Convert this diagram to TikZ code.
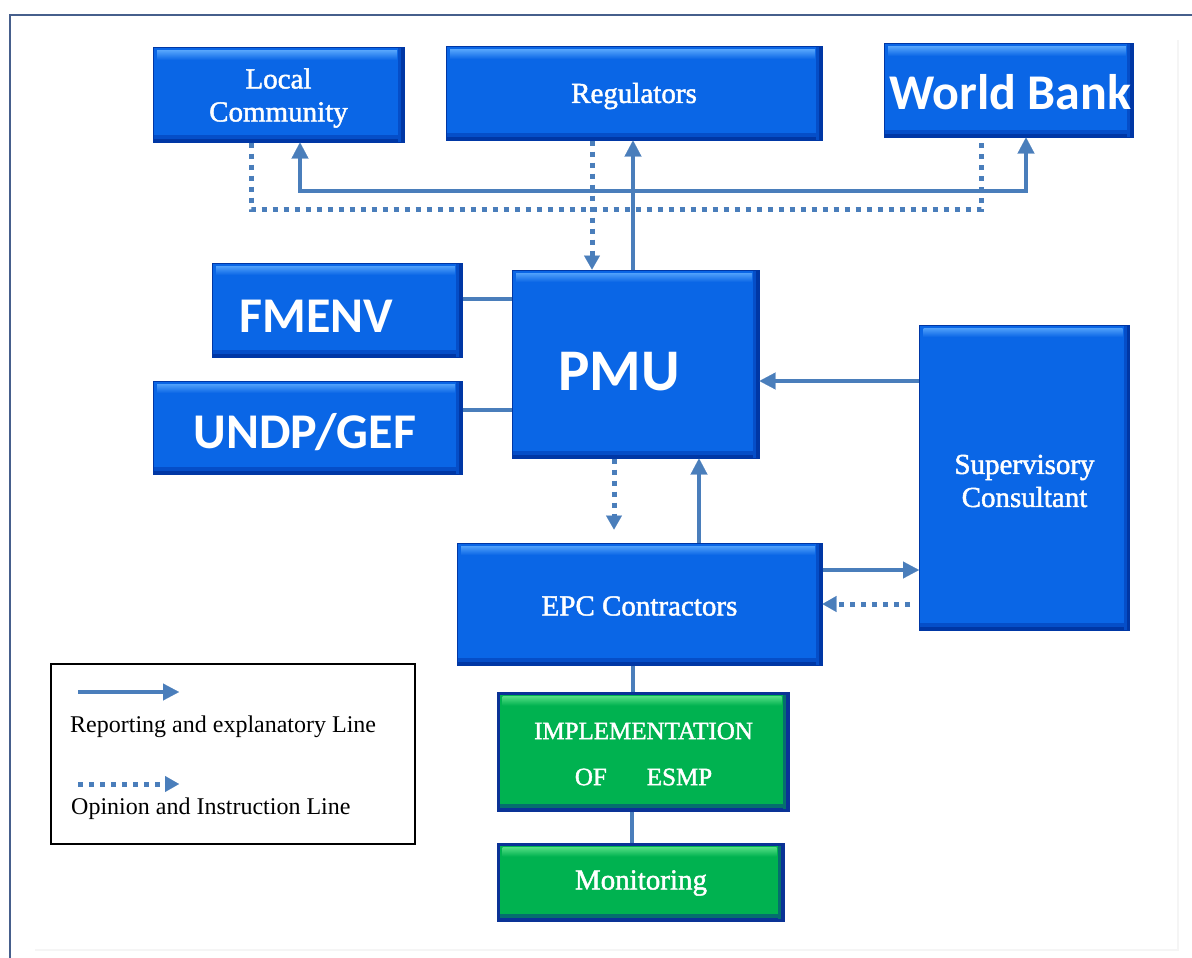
\documentclass[tikz,border=0pt]{standalone}
\usepackage{fontspec}
\setmainfont{Liberation Serif}
\newfontfamily\carlito{Carlito}
\newfontfamily\boxserif[FakeBold=1.6]{Liberation Serif}
\usetikzlibrary{arrows.meta}
\definecolor{bblue}{RGB}{10,102,230}
\definecolor{bdark}{RGB}{0,55,165}
\definecolor{bmid}{RGB}{5,78,200}
\definecolor{blight}{RGB}{80,160,250}
\definecolor{bgreen}{RGB}{0,178,80}
\definecolor{gdark}{RGB}{10,50,150}
\definecolor{gmid}{RGB}{5,110,110}
\definecolor{glight}{RGB}{80,220,130}
\definecolor{conn}{RGB}{74,126,187}
\definecolor{framec}{RGB}{70,95,140}
\newcommand{\mybevel}[4]{%
  \fill[#4] ([yshift=7pt]path picture bounding box.south west) rectangle ([yshift=3pt]path picture bounding box.south east);
  \fill[#1] ([yshift=3pt]path picture bounding box.south west) rectangle (path picture bounding box.south east);
  \fill[#4] ([xshift=-6pt]path picture bounding box.south east) rectangle ([xshift=-3pt]path picture bounding box.north east);
  \fill[#1] ([xshift=-3pt]path picture bounding box.south east) rectangle (path picture bounding box.north east);
  \shade[top color=#2, bottom color=#3] ([xshift=4pt,yshift=-3pt]path picture bounding box.north west) rectangle ([xshift=-7pt,yshift=-12pt]path picture bounding box.north east);
}
\tikzset{
  box/.style={fill=#1, inner sep=0pt, text=white, align=center, font=\boxserif\fontsize{29}{33}\selectfont},
  bluebox/.style={box=bblue, draw=bdark, line width=1pt, path picture={\mybevel{bdark}{blight}{bblue}{bmid}}},
  greenbox/.style={box=bgreen, draw=gdark, line width=3pt, path picture={\mybevel{gdark}{glight}{bgreen}{gmid}}},
  sanslabel/.style={text=white, inner sep=0pt, anchor=base, font=\carlito\bfseries\fontsize{50}{54}\selectfont},
  rep/.style={draw=conn, line width=4pt, -{Triangle[width=17pt,length=16pt,line width=0.1pt]}},
  plain/.style={draw=conn, line width=4pt},
  opi/.style={draw=conn, line width=5pt, dash pattern=on 5pt off 6pt, -{Triangle[width=16pt,length=14pt,line width=0.1pt]}},
  opiplain/.style={draw=conn, line width=5pt, dash pattern=on 5pt off 6pt},
  legtext/.style={inner sep=0pt, anchor=west, font=\fontsize{24}{28}\selectfont}
}
\begin{document}
\begin{tikzpicture}[x=1pt,y=-1pt]
\useasboundingbox (0,0) rectangle (1192,958);
\fill[white] (0,0) rectangle (1192,958);
\draw[black!4, line width=1.5pt] (35,950) -- (1178,950) -- (1178,40);
\draw[framec, line width=2pt] (1192,15) -- (10,15) -- (10,958);

% boxes
\node[bluebox, minimum width=251pt, minimum height=94pt] (lc) at (278.5,95) {};
\node[box, fill=none] (lct) at (278.5,98) {Local\\Community};
\node[bluebox, minimum width=376pt, minimum height=93pt] (reg) at (634,93.5) {};
\node[box, fill=none] (regt) at (634,96) {Regulators};
\node[bluebox, minimum width=249pt, minimum height=93pt] (wb) at (1008.5,90.5) {};
\node[bluebox, minimum width=250pt, minimum height=94pt] (fm) at (337,310) {};
\node[bluebox, minimum width=309pt, minimum height=93pt] (un) at (307.5,427.5) {};
\node[bluebox, minimum width=247pt, minimum height=188pt] (pmu) at (635.5,364) {};
\node[bluebox, minimum width=210pt, minimum height=305pt] (sc) at (1024.5,477.5) {};
\node[box, fill=none] (sct) at (1024.5,481) {Supervisory\\Consultant};
\node[bluebox, minimum width=365pt, minimum height=122pt] (epc) at (639.5,604) {};
\node[box, fill=none] (epct) at (639.5,606) {EPC Contractors};
\node[greenbox, minimum width=290pt, minimum height=117pt] (imp) at (643.5,752) {};
\node[box, fill=none, font=\boxserif\fontsize{25}{46}\selectfont] (impt) at (643.5,754) {IMPLEMENTATION\\OF\hspace{40pt}ESMP};
\node[greenbox, minimum width=285pt, minimum height=76pt] (mon) at (641,882.5) {};
\node[box, fill=none] (mont) at (641,883) {Monitoring};

% sans labels
\begin{scope}
\clip (wb.south west) rectangle (wb.north east);
\node[sanslabel, anchor=base west] (wbt) at (889,110) {World Bank};
\end{scope}
\node[sanslabel] (fmt) at (316.5,332) {FMENV};
\node[sanslabel] (unt) at (305,448) {UNDP/GEF};
\node[sanslabel, font=\carlito\bfseries\fontsize{59}{62}\selectfont] (pmut) at (619,390) {PMU};

% connectors top
\coordinate (busL) at (300,191);
\coordinate (busR) at (1026,191);
\coordinate (dotL) at (251,209);
\coordinate (dotR) at (981,209);
\draw[opiplain] (251,0 |- lc.south) -- (dotL) -- (dotR) -- (981,0 |- wb.south);
\draw[rep, {Triangle[width=17pt,length=16pt,line width=0.1pt]}-{Triangle[width=17pt,length=16pt,line width=0.1pt]}] (300,0 |- lc.south) -- (busL) -- (busR) -- (1026,0 |- wb.south);
\draw[opi] (592,0 |- reg.south) -- (592,0 |- pmu.north);
\draw[rep] (633,0 |- pmu.north) -- (633,0 |- reg.south);

% side links
\draw[plain] (fm.east |- 0,299) -- (pmu.west |- 0,299);
\draw[plain] (un.east |- 0,410) -- (pmu.west |- 0,410);
\draw[rep] (sc.west |- 0,381) -- (pmu.east |- 0,381);

% pmu - epc
\draw[opi, shorten >=13pt] (614,0 |- pmu.south) -- (614,0 |- epc.north);
\draw[rep] (699,0 |- epc.north) -- (699,0 |- pmu.south);

% epc - sc
\draw[rep] (epc.east |- 0,570) -- (sc.west |- 0,570);
\draw[opi, shorten <=9pt] (sc.west |- 0,604) -- (epc.east |- 0,604);

% lower chain
\draw[plain] (633,0 |- epc.south) -- (633,0 |- imp.north);
\draw[plain] (632,0 |- imp.south) -- (632,0 |- mon.north);

% legend
\node[draw=black, line width=2.5pt, fill=white, inner sep=0pt, minimum width=364pt, minimum height=180pt] (leg) at (233,754) {};
\coordinate (l1a) at (78,692);
\coordinate (l1b) at (179,692);
\draw[rep] (l1a) -- (l1b);
\node[legtext] (l1t) at (70,727) {Reporting and explanatory Line};
\coordinate (l2a) at (78,784);
\coordinate (l2b) at (179,784);
\draw[opi] (l2a) -- (l2b);
\node[legtext] (l2t) at (71,809) {Opinion and Instruction Line};
\end{tikzpicture}
\end{document}
